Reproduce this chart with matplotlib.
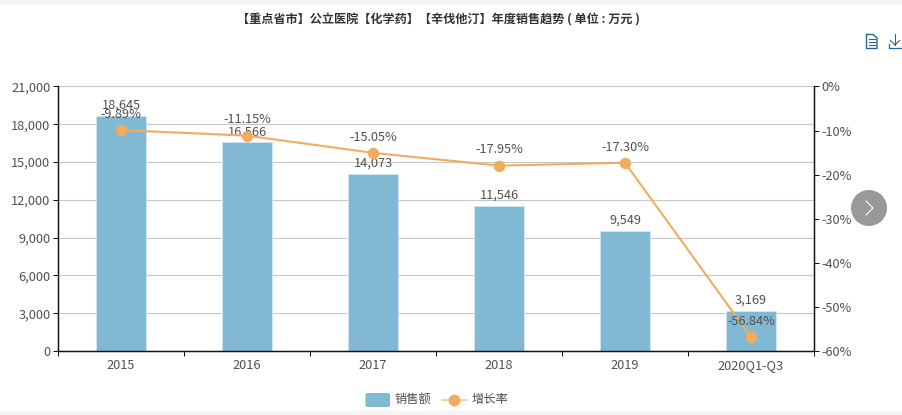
import matplotlib
matplotlib.use('Agg')
import matplotlib.pyplot as plt
from matplotlib.patches import Rectangle, Circle, FancyBboxPatch
from matplotlib.lines import Line2D

plt.rcParams['font.family'] = ['Noto Sans CJK SC', 'DejaVu Sans']

title = '【重点省市】公立医院【化学药】【辛伐他汀】年度销售趋势 ( 单位 : 万元 )'
years = ['2015', '2016', '2017', '2018', '2019', '2020Q1-Q3']
sales = [18645, 16566, 14073, 11546, 9549, 3169]
growth = [-9.89, -11.15, -15.05, -17.95, -17.30, -56.84]
left_ticks = [0, 3000, 6000, 9000, 12000, 15000, 18000, 21000]
right_ticks = [0, -10, -20, -30, -40, -50, -60]
legend_names = ['销售额', '增长率']

W, H = 902, 415
BAR = '#81b9d4'
LINE = '#f2ac5f'
TXT = '#505050'
AXC = '#111111'
FS = 9.2

fig = plt.figure(figsize=(W / 100, H / 100), dpi=100, facecolor='white')
L, R, T, B = 58, 814, 86.5, 351
ax = fig.add_axes([L / W, 1 - B / H, (R - L) / W, (B - T) / H])
x = list(range(len(years)))
ax.bar(x, sales, width=0.4, color=BAR, edgecolor='#cfe4ee', linewidth=0.72, zorder=2)
ax.set_xlim(-0.5, 5.5)
ax.set_ylim(0, 21000)
ax.set_yticks(left_ticks)
ax.set_yticklabels([f'{v:,}' for v in left_ticks], fontsize=FS, color=TXT)
ax.set_xticks([i - 0.5 for i in range(7)])
ax.set_xticklabels([])
ax.set_xticks(x, minor=True)
ax.set_xticklabels(years, minor=True, fontsize=FS, color=TXT)
ax.tick_params(axis='x', which='major', length=3.5, width=0.72, color=AXC)
ax.tick_params(axis='x', which='minor', length=0, pad=6)
ax.tick_params(axis='y', length=3.5, width=0.72, color=AXC, pad=2)
ax.grid(axis='y', color='#c8c8c8', linewidth=0.8, zorder=0)
ax.set_axisbelow(True)
ax.spines['top'].set_visible(False)
for s in ['left', 'bottom', 'right']:
    ax.spines[s].set_color(AXC)
    ax.spines[s].set_linewidth(0.9)

ax2 = ax.twinx()
ax2.set_ylim(-60, 0)
ax2.set_yticks(right_ticks)
ax2.set_yticklabels([f'{v}%' for v in right_ticks], fontsize=FS, color=TXT)
ax2.tick_params(axis='y', length=3.5, width=0.72, color=AXC, pad=2)
ax2.spines['top'].set_visible(False)
for s in ['left', 'bottom', 'right']:
    ax2.spines[s].set_color(AXC)
    ax2.spines[s].set_linewidth(0.9)
ax2.plot(x, growth, color=LINE, linewidth=1.5, marker='o', markersize=7.2,
         markerfacecolor=LINE, markeredgecolor=LINE, zorder=5)

for i, v in zip(x, sales):
    ax.annotate(f'{v:,}', (i, v), xytext=(0, 3), textcoords='offset points',
                ha='center', va='bottom', fontsize=FS, color=TXT, zorder=6)
for i, v in zip(x, growth):
    ax2.annotate(f'{v:.2f}%', (i, v), xytext=(0, 6.6), textcoords='offset points',
                 ha='center', va='bottom', fontsize=FS, color=TXT, zorder=6)

# page overlay in pixel coordinates
ov = fig.add_axes([0, 0, 1, 1], zorder=10)
ov.set_xlim(0, W)
ov.set_ylim(H, 0)
ov.axis('off')
ov.patch.set_alpha(0)
ov.add_patch(Rectangle((0, 0), W, 5.5, color='#f4f4f4', lw=0))
ov.add_patch(Rectangle((0, 410.5), W, 4.5, color='#f4f4f4', lw=0))
ov.text(438, 19.5, title, ha='center', va='center', fontsize=8.75, color='#333333', fontweight='bold')

# toolbar icons
IC = '#2a6496'
ov.add_line(Line2D([866.5, 866.5, 877, 877, 873, 866.5], [34.5, 48.5, 48.5, 38, 34.5, 34.5], color=IC, lw=1.0))
for yy in (39.5, 42.5, 45.5):
    ov.add_line(Line2D([869, 875], [yy, yy], color=IC, lw=0.8))
ov.add_line(Line2D([895, 895], [34, 45], color=IC, lw=0.8))
ov.add_line(Line2D([890.5, 895, 899.5], [40.5, 45, 40.5], color=IC, lw=0.8))
ov.add_line(Line2D([889, 889, 902], [44, 48.5, 48.5], color=IC, lw=0.9))

# carousel button
ov.add_patch(Circle((869, 208), 18, color='#999999', lw=0))
ov.add_line(Line2D([866, 873, 866], [201, 208, 215], color='white', lw=0.8))

# legend
ov.add_patch(FancyBboxPatch((365.5, 393), 24.5, 14, boxstyle='round,pad=0,rounding_size=2', color=BAR, lw=0))
ov.text(395, 399, legend_names[0], ha='left', va='center', fontsize=8.8, color=TXT)
ov.add_line(Line2D([442, 467], [400, 400], color=LINE, lw=1.1, alpha=0.75))
ov.add_line(Line2D([454], [400], marker='o', ms=7.5, color=LINE, mec=LINE))
ov.text(472, 399, legend_names[1], ha='left', va='center', fontsize=8.8, color=TXT)

fig.savefig('out.png', dpi=100, facecolor='white')
